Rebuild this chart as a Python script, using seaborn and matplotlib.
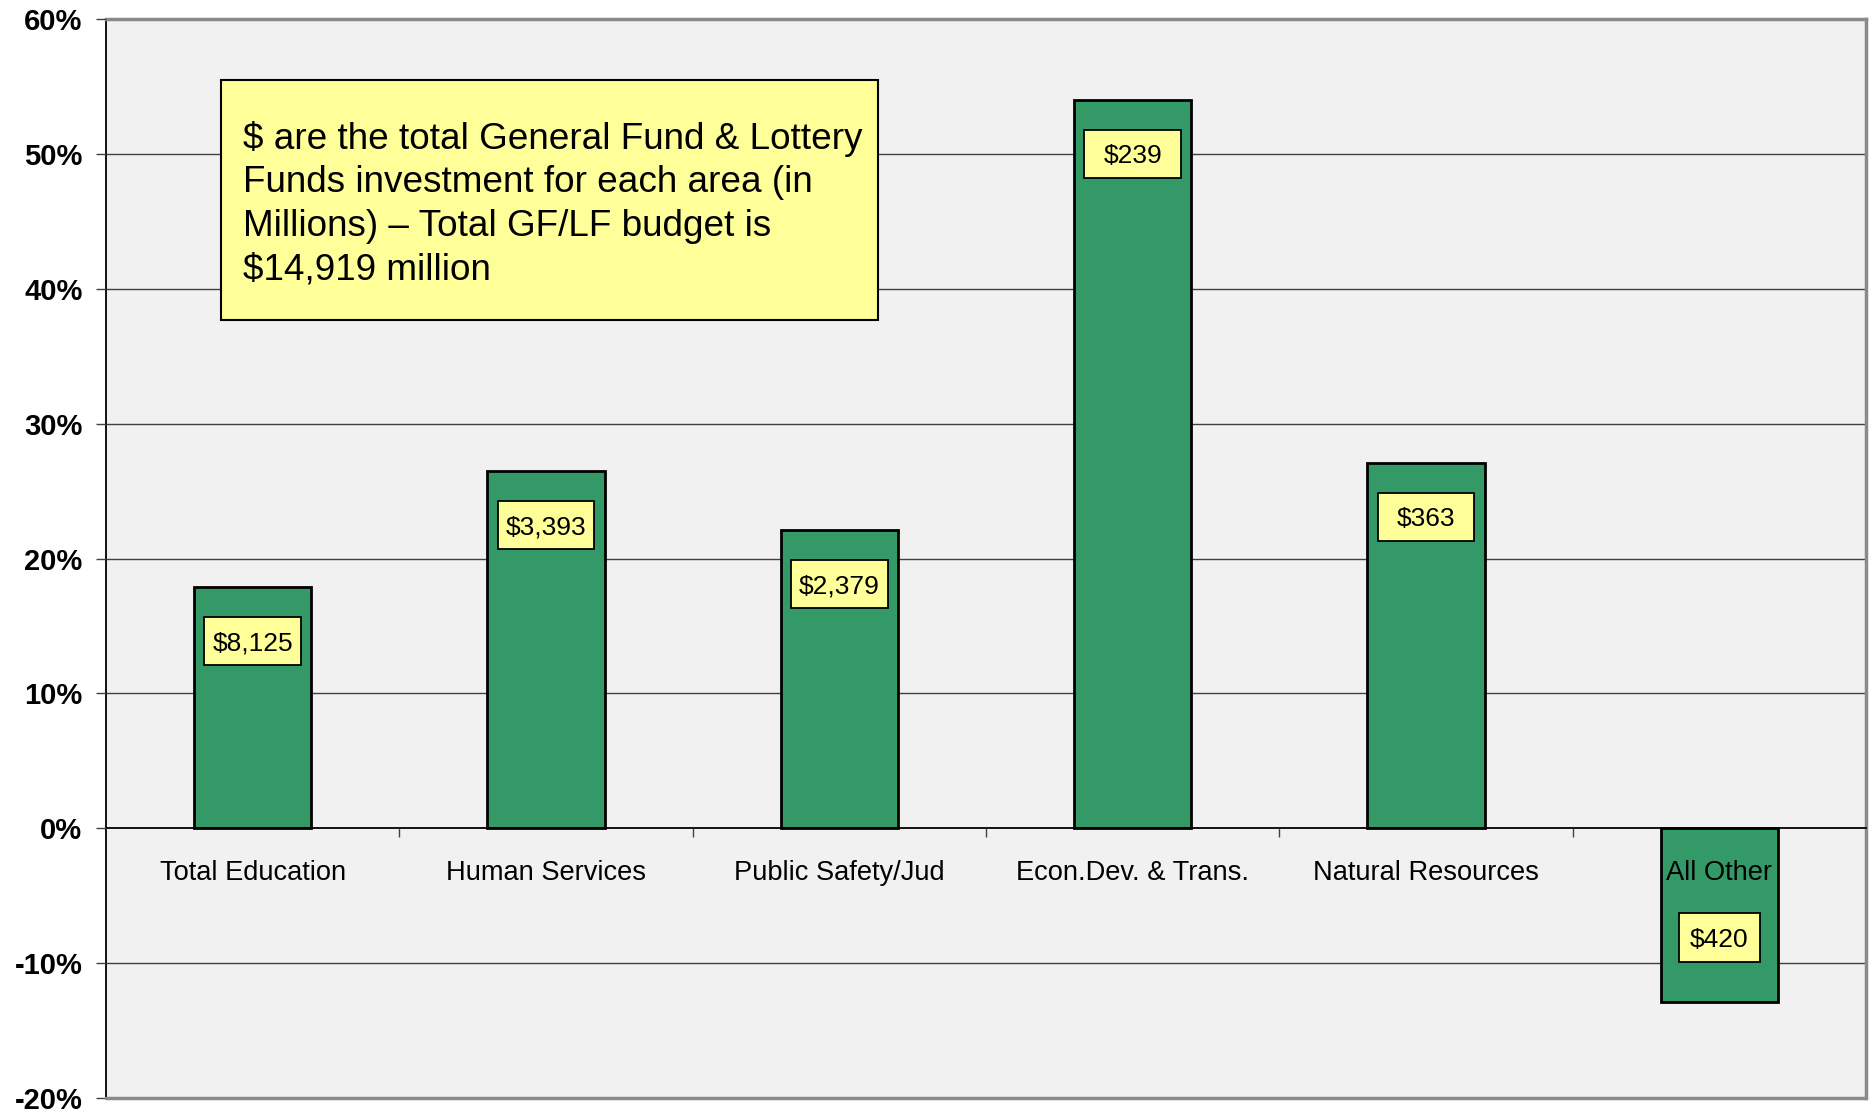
import matplotlib
matplotlib.use("Agg")
import matplotlib.pyplot as plt
import matplotlib.patches as mpatches
from matplotlib.ticker import FixedLocator
import seaborn as sns

categories = ["Total Education", "Human Services", "Public Safety/Jud",
              "Econ.Dev. & Trans.", "Natural Resources", "All Other"]
pct_change = [17.9, 26.5, 22.1, 54.0, 27.1, -12.9]
gf_lf = ["$8,125", "$3,393", "$2,379", "$239", "$363", "$420"]
y_ticks = [-20, -10, 0, 10, 20, 30, 40, 50, 60]
note = ("\\$ are the total General Fund & Lottery\n"
        "Funds investment for each area (in\n"
        "Millions) \u2013 Total GF/LF budget is\n"
        "\\$14,919 million")

sns.set_theme(style="white")
plt.rcParams['font.family'] = ['Liberation Sans', 'DejaVu Sans']

fig = plt.figure(figsize=(18.73, 11.12), dpi=100)
ax = fig.add_axes([106 / 1873, 1 - 1098 / 1112, 1760 / 1873, 1079 / 1112])
ax.set_facecolor("#F1F1F1")
ax.set_axisbelow(False)

sns.barplot(x=categories, y=pct_change, color="#339966", saturation=1,
            width=0.4, edgecolor="black", linewidth=2, ax=ax)

ax.set_xlim(-0.5, 5.5)
ax.set_ylim(-20, 60)
ax.set_yticks(y_ticks)
ax.set_yticklabels([f"{v}%" for v in y_ticks], fontsize=21, fontweight="bold")
for v in y_ticks[1:-1]:
    if v != 0:
        ax.axhline(v, color="#404040", lw=1, zorder=0.5)
ax.axhline(-20, color="#8a8a8a", lw=2.5, zorder=3, clip_on=False)

# x axis sits on the 0% line, labels at category centres, ticks between them
ax.spines['bottom'].set_position(('data', 0))
ax.spines['bottom'].set_color("black")
ax.spines['bottom'].set_linewidth(1.3)
ax.spines['left'].set_color("black")
ax.spines['left'].set_linewidth(1.3)
for s in ['top', 'right']:
    ax.spines[s].set_color("#8a8a8a")
    ax.spines[s].set_linewidth(2.5)

ax.tick_params(axis='x', which='major', length=0, pad=23, labelsize=19.6, labelcolor="black")
ax.xaxis.set_minor_locator(FixedLocator([0.5, 1.5, 2.5, 3.5, 4.5]))
ax.tick_params(axis='x', which='minor', bottom=True, length=6.5, width=1, color="#404040", direction='out')
ax.tick_params(axis='y', left=True, length=7, width=1, color="#404040", pad=10, labelcolor="black")
ax.set_xlabel("")
ax.set_ylabel("")

# value boxes: fixed size boxes (in category units / % units) under each bar end
for i, (v, lab) in enumerate(zip(pct_change, gf_lf)):
    y = v - 4.0 if v > 0 else v + 4.8
    w = 0.33 if v > 0 else 0.276
    h = 3.56
    ax.add_patch(mpatches.Rectangle((i - w / 2, y - h / 2), w, h, facecolor="#FFFF99",
                                    edgecolor="black", linewidth=1.3, zorder=4))
    ax.text(i, y, lab, ha='center', va='center_baseline', fontsize=19, color="black", zorder=5)

ax.add_patch(mpatches.Rectangle((0.0653, 0.721), 0.3733, 0.2225, transform=ax.transAxes,
                                facecolor="#FFFF99", edgecolor="black", linewidth=1.5, zorder=4))
ax.text(0.0776, 0.8285, note, transform=ax.transAxes, ha='left', va='center',
        fontsize=26.6, linespacing=1.31, color="black", zorder=5)

fig.savefig("out.png", dpi=100)
